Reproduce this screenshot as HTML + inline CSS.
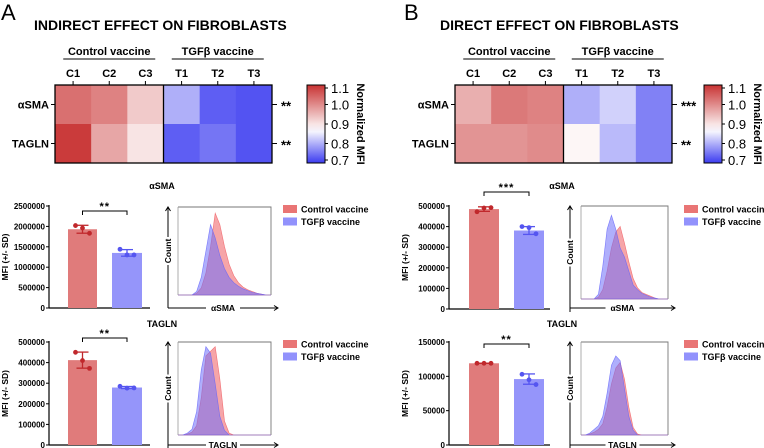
<!DOCTYPE html>
<html><head><meta charset="utf-8"><style>
html,body{margin:0;padding:0;background:#fff}
svg{display:block;font-family:"Liberation Sans",Arial,sans-serif}
</style></head><body>
<svg id="fig" width="764" height="448" viewBox="0 0 764 448" xmlns="http://www.w3.org/2000/svg"></svg>
<script>
// ---------- DATA ----------
const heatCols = ["C1","C2","C3","T1","T2","T3"];
const heatRows = ["αSMA","TAGLN"];
const heatA_sma = [1.03,1.01,0.93,0.80,0.73,0.72];
const heatA_tagln = [1.09,0.97,0.90,0.73,0.75,0.72];
const heatB_sma = [0.96,1.02,1.01,0.80,0.83,0.76];
const heatB_tagln = [0.99,0.99,1.0,0.88,0.81,0.76];
const heatA_sig = ["**","**"];
const heatB_sig = ["***","**"];
const cbTicks = [1.1,1.0,0.9,0.8,0.7];
const groups = ["Control vaccine","TGFβ vaccine"];

const barA1_means = [1930000,1350000];
const barA1_pts = [[2020000,1960000,1830000],[1440000,1300000,1300000]];
const barA1_ticks = [0,500000,1000000,1500000,2000000,2500000];
const barA2_means = [412000,279000];
const barA2_pts = [[450000,410000,372000],[285000,276000,277000]];
const barA2_ticks = [0,100000,200000,300000,400000,500000];
const barB1_means = [485000,381000];
const barB1_pts = [[472000,490000,492000],[400000,395000,365000]];
const barB1_ticks = [0,100000,200000,300000,400000,500000];
const barB2_means = [119000,96000];
const barB2_pts = [[119000,119000,119000],[103000,95000,88000]];
const barB2_ticks = [0,50000,100000,150000];

const histA1_red = [0,0,0,0,0.02,0.08,0.25,0.55,0.93,0.8,0.55,0.35,0.22,0.14,0.09,0.06,0.04,0.02,0.01,0,0];
const histA1_blue = [0,0,0,0,0.04,0.2,0.5,0.8,0.65,0.45,0.3,0.2,0.14,0.1,0.07,0.05,0.03,0.02,0.01,0,0];
const histA2_red = [0,0,0.01,0.03,0.1,0.4,0.85,0.9,0.95,0.6,0.15,0.02,0,0,0,0,0,0,0,0,0];
const histA2_blue = [0,0,0.02,0.06,0.25,0.7,0.95,0.88,0.55,0.2,0.05,0,0,0,0,0,0,0,0,0,0];
const histB1_red = [0,0,0,0,0.02,0.1,0.3,0.55,0.72,0.78,0.6,0.4,0.22,0.12,0.07,0.05,0.03,0.01,0,0,0];
const histB1_blue = [0,0,0,0,0.05,0.35,0.75,0.9,0.75,0.55,0.45,0.3,0.15,0.1,0.06,0.04,0.02,0.01,0,0,0];
const histB2_red = [0,0,0.01,0.03,0.06,0.12,0.3,0.55,0.72,0.78,0.6,0.3,0.08,0.01,0,0,0,0,0,0,0];
const histB2_blue = [0,0,0.02,0.06,0.1,0.2,0.45,0.75,0.85,0.8,0.5,0.2,0.05,0,0,0,0,0,0,0,0];

// ---------- HELPERS ----------
const svg = document.getElementById('fig');
const NS = "http://www.w3.org/2000/svg";
function mk(tag, attrs, parent, text){
  const e = document.createElementNS(NS, tag);
  for (const k in attrs) e.setAttribute(k, attrs[k]);
  if (text !== undefined) e.textContent = text;
  (parent||svg).appendChild(e);
  return e;
}
function lerp(a,b,t){return a+(b-a)*t;}
function colorFor(v){
  const lo=[60,60,240], mid=[255,255,255], hi=[200,50,50];
  const m=0.87;
  let c;
  if (v<=m){const t=Math.max(0,(v-0.7)/(m-0.7)); c=lo.map((x,i)=>lerp(x,mid[i],t));}
  else {const t=Math.min(1,(v-m)/(1.1-m)); c=mid.map((x,i)=>lerp(x,hi[i],t));}
  return `rgb(${c.map(Math.round).join(',')})`;
}

function heatmap(g, x0, y0, w, h, rows, sig, cbx, prefix){
  const cw = w/6, ch = h/2;
  rows.forEach((vals,r)=>{
    vals.forEach((v,c)=>{
      const e = mk('rect',{x:x0+c*cw,y:y0+r*ch,width:cw+0.5,height:ch+0.5,fill:colorFor(v)},g);
      
      
    });
  });
  mk('rect',{x:x0,y:y0,width:w,height:h,fill:'none',stroke:'#000','stroke-width':1.3},g);
  mk('line',{x1:x0+w/2,y1:y0,x2:x0+w/2,y2:y0+h,stroke:'#000','stroke-width':1.3},g);
  heatCols.forEach((c,i)=>{
    const cx = x0+(i+0.5)*cw;
    mk('line',{x1:cx,y1:y0-4,x2:cx,y2:y0,stroke:'#000','stroke-width':1},g);
    const t=mk('text',{x:cx,y:y0-8,'text-anchor':'middle','font-size':11,'font-weight':'bold'},g,c);
     
  });
  groups.forEach((gn,i)=>{
    const gx = x0+(i+0.5)*w/2;
    const t=mk('text',{x:gx,y:y0-30,'text-anchor':'middle','font-size':11,'font-weight':'bold'},g,gn);
     
    mk('line',{x1:gx-46,y1:y0-26,x2:gx+46,y2:y0-26,stroke:'#000','stroke-width':1},g);
  });
  heatRows.forEach((rn,r)=>{
    const cy = y0+(r+0.5)*ch;
    mk('line',{x1:x0-4,y1:cy,x2:x0,y2:cy,stroke:'#000','stroke-width':1},g);
    const t=mk('text',{x:x0-6,y:cy+4,'text-anchor':'end','font-size':11,'font-weight':'bold'},g,rn);
     
    mk('line',{x1:x0+w,y1:cy,x2:x0+w+5,y2:cy,stroke:'#000','stroke-width':1},g);
    const s=mk('text',{x:x0+w+9,y:cy+6,'font-size':13,'font-weight':'bold'},g,sig[r]);
     
  });
  const defs = mk('defs',{},g);
  const gr = mk('linearGradient',{id:prefix+'grad',x1:0,y1:1,x2:0,y2:0},defs);
  for (let i=0;i<=10;i++){const v=0.7+0.04*i; mk('stop',{offset:(i/10),'stop-color':colorFor(v)},gr);}
  const cb = mk('rect',{x:cbx,y:y0,width:18,height:h,fill:`url(#${prefix}grad)`,stroke:'#000','stroke-width':1},g);
   
  cbTicks.forEach(v=>{
    const yy = y0 + (1.1-v)/0.4*h + (v===1.1?3:v===0.7?-3:0);
    mk('line',{x1:cbx+18,y1:yy,x2:cbx+21,y2:yy,stroke:'#000'},g);
    const t=mk('text',{x:cbx+24,y:yy+5,'font-size':13},g,v.toFixed(1));
     
  });
  const tt=mk('text',{x:0,y:0,'font-size':11,'font-weight':'bold','text-anchor':'middle',transform:`translate(${cbx+50},${y0+h/2}) rotate(90)`},g,'Normalized MFI');
   
}

function barChart(g, ax, y0, ytop, maxV, ticks, means, pts, bars, bracketY, sig, title, titleX, titleY, prefix){
  const ys = v => y0 - v/maxV*(y0-ytop);
  const t=mk('text',{x:titleX,y:titleY,'text-anchor':'middle','font-size':9,'font-weight':'bold'},g,title);
   
  mk('line',{x1:ax,y1:ytop-1,x2:ax,y2:y0,stroke:'#000','stroke-width':1.2},g);
  mk('line',{x1:ax,y1:y0,x2:ax+101,y2:y0,stroke:'#000','stroke-width':1.2},g);
  ticks.forEach(v=>{
    const yy=ys(v);
    mk('line',{x1:ax-3,y1:yy,x2:ax,y2:yy,stroke:'#000','stroke-width':1},g);
    const tl=mk('text',{x:ax-4,y:yy+3,'text-anchor':'end','font-size':8,'font-weight':'bold'},g,String(v));
     
  });
  const yl=mk('text',{x:0,y:0,'font-size':8.5,'font-weight':'bold','text-anchor':'middle',transform:`translate(${ax-41},${(y0+ytop)/2}) rotate(-90)`},g,'MFI (+/- SD)');
   
  const fills=['#e07b7b','#9595fa'], dots=['#c0282c','#5555f0'];
  means.forEach((m,i)=>{
    const [bx,bw]=bars[i];
    const r=mk('rect',{x:bx,y:ys(m),width:bw,height:y0-ys(m),fill:fills[i]},g);
     
    const p=pts[i]; const mean=p.reduce((a,b)=>a+b,0)/p.length;
    const sd=Math.sqrt(p.reduce((a,b)=>a+(b-mean)**2,0)/(p.length-1));
    const cx=bx+bw/2;
    mk('line',{x1:cx,y1:ys(m+sd),x2:cx,y2:ys(m-sd),stroke:dots[i],'stroke-width':1.3},g);
    mk('line',{x1:cx-6,y1:ys(m+sd),x2:cx+6,y2:ys(m+sd),stroke:dots[i],'stroke-width':1.3},g);
    mk('line',{x1:cx-6,y1:ys(m-sd),x2:cx+6,y2:ys(m-sd),stroke:dots[i],'stroke-width':1.3},g);
    p.forEach((v,j)=>{
      const d=mk('circle',{cx:cx+(j-1)*7,cy:ys(v),r:2.4,fill:dots[i]},g);
       
    });
  });
  const c1=bars[0][0]+bars[0][1]/2, c2=bars[1][0]+bars[1][1]/2;
  mk('path',{d:`M${c1},${bracketY+4}V${bracketY}H${c2}V${bracketY+4}`,fill:'none',stroke:'#000','stroke-width':1},g);
  const s=mk('text',{x:(c1+c2)/2,y:bracketY-1,'text-anchor':'middle','font-size':11,'font-weight':'bold','letter-spacing':1},g,sig);
   
}

function hist(g, bx, by, bw, bh, axX, axY, red, blue, xlabel, legX, legY, prefix){
  mk('path',{d:`M${bx},${by}H${bx+bw}V${by+bh}`,fill:'none',stroke:'#777','stroke-width':0.9},g);
  mk('line',{x1:bx,y1:by,x2:bx,y2:by+bh,stroke:'#999','stroke-width':0.8},g);
  mk('line',{x1:bx,y1:by+bh,x2:bx+bw,y2:by+bh,stroke:'#999','stroke-width':0.8},g);
  const path = arr => {
    let d=`M${bx},${by+bh}`;
    arr.forEach((v,i)=>{ d+=`L${bx+i/(arr.length-1)*bw},${by+bh-v*bh}`; });
    return d+`L${bx+bw},${by+bh}Z`;
  };
  const pr=mk('path',{d:path(red),fill:'rgba(240,105,110,0.6)',stroke:'rgba(240,90,95,0.8)','stroke-width':0.6},g);
   
  const pb=mk('path',{d:path(blue),fill:'rgba(110,110,250,0.55)',stroke:'rgba(100,100,250,0.8)','stroke-width':0.6},g);
   
  const cy=(by+by+bh)/2;
  mk('path',{d:`M${axX},${by+bh+13}V${cy+14}M${axX},${cy-14}V${by+1}M${axX-2.5},${by+4}L${axX},${by}L${axX+2.5},${by+4}`,fill:'none',stroke:'#000','stroke-width':1},g);
  const cl=mk('text',{x:0,y:0,'font-size':8.5,'font-weight':'bold','text-anchor':'middle',transform:`translate(${axX+3},${cy}) rotate(-90)`},g,'Count');
   
  const cx=(axX+bx+bw+7)/2;
  mk('path',{d:`M${axX},${axY}H${cx-17}M${cx+17},${axY}H${bx+bw+6}M${bx+bw+3},${axY-2.5}L${bx+bw+7},${axY}L${bx+bw+3},${axY+2.5}`,fill:'none',stroke:'#000','stroke-width':1},g);
  const xl=mk('text',{x:cx,y:axY+3,'font-size':8.5,'font-weight':'bold','text-anchor':'middle'},g,xlabel);
   
  [['rgba(232,110,110,0.95)','Control vaccine'],['rgba(140,140,252,0.95)','TGFβ vaccine']].forEach((it,i)=>{
    const r=mk('rect',{x:legX,y:legY+i*12.5,width:14,height:8,fill:it[0]},g);
     
    const t=mk('text',{x:legX+18,y:legY+i*12.5+7.5,'font-size':9,'font-weight':'bold'},g,it[1]);
     
  });
}

// ---------- PANEL A ----------
const gA = mk('g',{});
 
let t=mk('text',{x:1,y:20,'font-size':22},gA,'A');  
t=mk('text',{x:34,y:30,'font-size':14,'font-weight':'bold'},gA,'INDIRECT EFFECT ON FIBROBLASTS');  
heatmap(gA,55,85,217,78,[heatA_sma,heatA_tagln],heatA_sig,307,'heatmap-a');
barChart(gA,49,308,206,2500000,barA1_ticks,barA1_means,barA1_pts,[[68,29],[112,30]],211,'**','αSMA',162,189,'bar-a-asma');
hist(gA,178,207,93,88,168,308,histA1_red,histA1_blue,'αSMA',283,205,'hist-a-asma');
barChart(gA,49,445,342,500000,barA2_ticks,barA2_means,barA2_pts,[[68,29],[112,30]],338,'**','TAGLN',162,327,'bar-a-tagln');
hist(gA,178,342,93,93,168,445,histA2_red,histA2_blue,'TAGLN',283,340,'hist-a-tagln');

// ---------- PANEL B ----------
const gB = mk('g',{});
 
t=mk('text',{x:404,y:20,'font-size':22},gB,'B');  
t=mk('text',{x:440,y:30,'font-size':14,'font-weight':'bold'},gB,'DIRECT EFFECT ON FIBROBLASTS');  
heatmap(gB,455,85,217,78,[heatB_sma,heatB_tagln],heatB_sig,704,'heatmap-b');
barChart(gB,449,309,206,500000,barB1_ticks,barB1_means,barB1_pts,[[469,30],[514,30]],192,'***','αSMA',562,189,'bar-b-asma');
hist(gB,581,206,87,93,570,308,histB1_red,histB1_blue,'αSMA',684,205,'hist-b-asma');
barChart(gB,449,445,342,150000,barB2_ticks,barB2_means,barB2_pts,[[469,30],[514,30]],344,'**','TAGLN',562,327,'bar-b-tagln');
hist(gB,581,342,87,93,570,445,histB2_red,histB2_blue,'TAGLN',684,340,'hist-b-tagln');
</script>
</body></html>
